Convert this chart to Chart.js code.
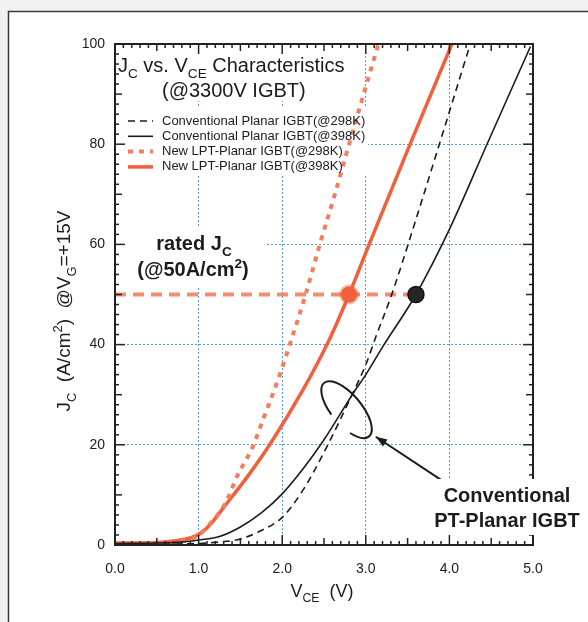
<!DOCTYPE html>
<html>
<head>
<meta charset="utf-8">
<script src="https://cdn.jsdelivr.net/npm/chart.js@4.4.0/dist/chart.umd.min.js"></script>
<style>
html, body { margin: 0; padding: 0; background: #fff; }
</style>
</head>
<body>
<canvas id="ivChart" width="588" height="622"></canvas>
<script>
// series names shown in the legend
const seriesLabels = [
    'Conventional Planar IGBT(@298K)',
    'Conventional Planar IGBT(@398K)',
    'New LPT-Planar IGBT(@298K)',
    'New LPT-Planar IGBT(@398K)'
];

// V_CE (V) / J_C (A/cm2)
const conv298V = [0, 0.5, 1.0, 1.25, 1.5, 1.75, 2.0, 2.25, 2.5, 2.85, 3.0, 3.13, 3.31, 3.6, 3.88, 4.25];
const conv298J = [0.2, 0.2, 0.3, 0.6, 1.2, 2.9, 5.5, 11, 18.5, 30.5, 36, 42, 50, 65, 80, 100];

const conv398V = [0, 0.5, 0.8, 1.0, 1.25, 1.5, 1.75, 2.0, 2.25, 2.5, 2.85, 3.0, 3.2, 3.6, 4.0, 4.45, 4.97];
const conv398J = [0.3, 0.4, 0.6, 1.0, 1.7, 3.6, 6.4, 10.2, 15.2, 21, 30.3, 34, 39.5, 50, 63, 80, 99.5];

const lpt298V = [0, 0.5, 0.8, 1.0, 1.15, 1.32, 1.46, 1.65, 1.77, 1.95, 2.1, 2.28, 2.45, 2.63, 2.8, 3.15];
const lpt298J = [0.3, 0.4, 0.8, 2.0, 4.5, 8.3, 13.7, 19.7, 25, 33, 40.5, 50, 60, 70, 80, 100];

const lpt398V = [0, 0.5, 0.7, 0.9, 1.02, 1.15, 1.3, 1.6, 1.85, 2.25, 2.55, 2.8, 3.04, 3.53, 4.03];
const lpt398J = [0.4, 0.5, 0.8, 1.4, 2.3, 4.3, 7.5, 14, 20, 31, 40.5, 50, 60, 80, 100];

// rated current density line and operating points
const ratedV = [0, 3.6];
const ratedJ = [50, 50];
const lptPointV = [2.8];
const lptPointJ = [50];
const convPointV = [3.6];
const convPointJ = [50];

const xTicks = [0, 1, 2, 3, 4, 5];
const yTicks = [0, 20, 40, 60, 80, 100];

const FONT = "'Liberation Sans', Arial, sans-serif";
const ORANGE = '#f0603c';
const ORANGE_LIGHT = '#f57d5d';

function zip(xs, ys) {
    return xs.map((x, i) => ({ x: x, y: ys[i] }));
}

// text with sub / superscripts
function drawRich(ctx, runs, x, y, size, weight, align) {
    const parts = runs.map(r => {
        const s = r.k ? size * 0.68 : size;
        ctx.font = weight + ' ' + s + 'px ' + FONT;
        return { t: r.t, k: r.k, s: s, w: ctx.measureText(r.t).width };
    });
    const total = parts.reduce((a, p) => a + p.w, 0);
    let cx = align === 'center' ? x - total / 2 : x;
    ctx.textAlign = 'left';
    ctx.textBaseline = 'alphabetic';
    parts.forEach(p => {
        ctx.font = weight + ' ' + p.s + 'px ' + FONT;
        const dy = p.k === 'sub' ? size * 0.3 : (p.k === 'sup' ? -size * 0.42 : 0);
        ctx.fillText(p.t, cx, y + dy);
        cx += p.w;
    });
}

function seg(ctx, x1, y1, x2, y2) {
    ctx.beginPath();
    ctx.moveTo(x1, y1);
    ctx.lineTo(x2, y2);
    ctx.stroke();
}

const decorPlugin = {
    id: 'decor',
    beforeDraw(chart) {
        const ctx = chart.ctx;
        ctx.save();
        ctx.fillStyle = '#f1f1f1';
        ctx.fillRect(0, 0, chart.width, chart.height);
        ctx.fillStyle = '#fff';
        ctx.fillRect(8, 11, chart.width, chart.height);
        ctx.strokeStyle = '#3a3a3a';
        ctx.lineWidth = 1.5;
        ctx.beginPath();
        ctx.moveTo(8.5, chart.height);
        ctx.lineTo(8.5, 11.5);
        ctx.lineTo(chart.width, 11.5);
        ctx.stroke();
        ctx.restore();
    },
    beforeDatasetsDraw(chart) {
        const ctx = chart.ctx;
        ctx.save();
        ctx.fillStyle = '#fff';
        ctx.fillRect(116, 45, 242, 56);   // title
        ctx.fillRect(116, 106, 252, 70);  // legend
        ctx.fillRect(116, 228, 150, 58);  // rated Jc note
        ctx.restore();
    },
    afterDatasetsDraw(chart) {
        const ctx = chart.ctx;
        const a = chart.chartArea;
        const xs = chart.scales.x;
        const ys = chart.scales.y;
        ctx.save();

        // frame + inward ticks
        ctx.strokeStyle = '#222';
        ctx.lineWidth = 2;
        ctx.strokeRect(a.left, a.top, a.right - a.left, a.bottom - a.top);
        ctx.lineWidth = 1.5;
        for (let i = 0; i <= 50; i++) {
            const px = xs.getPixelForValue(i / 10);
            const len = i % 10 === 0 ? 10 : (i % 5 === 0 ? 7 : 4);
            seg(ctx, px, a.bottom, px, a.bottom - len);
            seg(ctx, px, a.top, px, a.top + len);
        }
        for (let j = 0; j <= 100; j += 2) {
            const py = ys.getPixelForValue(j);
            const len = j % 20 === 0 ? 10 : (j % 10 === 0 ? 7 : 4);
            seg(ctx, a.left, py, a.left + len, py);
            seg(ctx, a.right, py, a.right - len, py);
        }

        ctx.fillStyle = '#1c1c1c';
        // title
        drawRich(ctx, [{ t: 'J' }, { t: 'C', k: 'sub' }, { t: ' vs. V' }, { t: 'CE', k: 'sub' }, { t: ' Characteristics' }],
            118, 72, 20, 'normal', 'left');
        drawRich(ctx, [{ t: '(@3300V IGBT)' }], 162, 97, 20, 'normal', 'left');

        // legend
        for (let i = 0; i < 4; i++) {
            const ds = chart.data.datasets[i];
            const ly = 121 + i * 15.3;
            ctx.strokeStyle = ds.borderColor;
            ctx.lineWidth = ds.borderWidth;
            ctx.setLineDash(ds.borderDash || []);
            seg(ctx, 128, ly, 153, ly);
            ctx.setLineDash([]);
            ctx.font = '13px ' + FONT;
            ctx.fillStyle = '#1c1c1c';
            ctx.textBaseline = 'middle';
            ctx.fillText(seriesLabels[i], 162, ly);
        }

        // rated note
        drawRich(ctx, [{ t: 'rated J' }, { t: 'C', k: 'sub' }], 194, 250, 20, 'bold', 'center');
        drawRich(ctx, [{ t: '(@50A/cm' }, { t: '2', k: 'sup' }, { t: ')' }], 193, 276, 20, 'bold', 'center');

        // axis titles
        drawRich(ctx, [{ t: 'V' }, { t: 'CE', k: 'sub' }, { t: '  (V)' }], 322, 597, 18, 'normal', 'center');
        ctx.save();
        ctx.translate(70, 311);
        ctx.rotate(-Math.PI / 2);
        drawRich(ctx, [{ t: 'J' }, { t: 'C', k: 'sub' }, { t: '  (A/cm' }, { t: '2', k: 'sup' }, { t: ')  @V' }, { t: 'G', k: 'sub' }, { t: '=+15V' }],
            0, 0, 19, 'normal', 'center');
        ctx.restore();

        // ellipse around the crossing of the conventional curves
        const ex = xs.getPixelForValue(2.77);
        const ey = ys.getPixelForValue(27);
        ctx.strokeStyle = '#1c1c1c';
        ctx.lineWidth = 2;
        ctx.beginPath();
        ctx.ellipse(ex, ey, 35, 15, 50 * Math.PI / 180, 100 * Math.PI / 180, 415 * Math.PI / 180);
        ctx.stroke();

        // arrow
        const tx = xs.getPixelForValue(3.9), ty = ys.getPixelForValue(13);
        const hx = xs.getPixelForValue(3.12), hy = ys.getPixelForValue(21.6);
        seg(ctx, tx, ty, hx, hy);
        const ang = Math.atan2(hy - ty, hx - tx);
        ctx.fillStyle = '#1c1c1c';
        ctx.beginPath();
        ctx.moveTo(hx, hy);
        ctx.lineTo(hx - 12 * Math.cos(ang - 0.35), hy - 12 * Math.sin(ang - 0.35));
        ctx.lineTo(hx - 12 * Math.cos(ang + 0.35), hy - 12 * Math.sin(ang + 0.35));
        ctx.closePath();
        ctx.fill();

        // label for conventional curves
        ctx.fillStyle = '#fff';
        ctx.fillRect(428, 479, 160, 56);
        ctx.fillStyle = '#1c1c1c';
        drawRich(ctx, [{ t: 'Conventional' }], 507, 502, 20, 'bold', 'center');
        drawRich(ctx, [{ t: 'PT-Planar IGBT' }], 507, 527, 20, 'bold', 'center');
        ctx.restore();
    }
};

Chart.defaults.font.family = FONT;
Chart.defaults.color = '#1c1c1c';

const gridColor = c => (c.tick && (c.tick.value === c.scale.min || c.tick.value === c.scale.max))
    ? 'rgba(0,0,0,0)' : 'rgba(70,145,230,0.9)';

const ctxIV = document.getElementById('ivChart').getContext('2d');

new Chart(ctxIV, {
    type: 'scatter',
    data: {
        datasets: [{
            label: seriesLabels[0],
            data: zip(conv298V, conv298J),
            showLine: true,
            borderColor: '#1c1c1c',
            borderWidth: 1.6,
            borderDash: [7, 5],
            pointRadius: 0,
            tension: 0.4,
            cubicInterpolationMode: 'monotone'
        }, {
            label: seriesLabels[1],
            data: zip(conv398V, conv398J),
            showLine: true,
            borderColor: '#1c1c1c',
            borderWidth: 1.6,
            pointRadius: 0,
            tension: 0.4,
            cubicInterpolationMode: 'monotone'
        }, {
            label: seriesLabels[2],
            data: zip(lpt298V, lpt298J),
            showLine: true,
            borderColor: ORANGE_LIGHT,
            borderWidth: 4,
            borderDash: [5, 6],
            pointRadius: 0,
            tension: 0.4,
            cubicInterpolationMode: 'monotone'
        }, {
            label: seriesLabels[3],
            data: zip(lpt398V, lpt398J),
            showLine: true,
            borderColor: ORANGE,
            borderWidth: 3.5,
            pointRadius: 0,
            tension: 0.4,
            cubicInterpolationMode: 'monotone'
        }, {
            label: 'rated',
            data: zip(ratedV, ratedJ),
            showLine: true,
            borderColor: 'rgba(242,120,88,0.85)',
            borderWidth: 4,
            borderDash: [11, 7],
            pointRadius: 0,
            order: 10
        }, {
            label: 'LPT point',
            data: zip(lptPointV, lptPointJ),
            pointRadius: 8,
            pointBackgroundColor: ORANGE,
            pointBorderColor: 'rgba(240,96,60,0.45)',
            pointBorderWidth: 4,
            order: -1
        }, {
            label: 'Conv point',
            data: zip(convPointV, convPointJ),
            pointRadius: 8,
            pointBackgroundColor: '#262626',
            pointBorderColor: '#111',
            pointBorderWidth: 1.5,
            order: -1
        }]
    },
    options: {
        responsive: false,
        animation: false,
        layout: {
            padding: { left: 65, right: 55, top: 44, bottom: 37 }
        },
        plugins: {
            legend: { display: false },
            tooltip: { enabled: false },
            title: { display: false }
        },
        scales: {
            x: {
                type: 'linear',
                min: 0,
                max: 5,
                afterFit(s) { s.height = 40; },
                afterBuildTicks(s) { s.ticks = xTicks.map(v => ({ value: v })); },
                ticks: {
                    padding: 16,
                    color: '#1c1c1c',
                    font: { size: 14 },
                    callback: v => v.toFixed(1)
                },
                grid: { color: gridColor, lineWidth: 1, drawTicks: false },
                border: { display: false, dash: [2, 2] }
            },
            y: {
                type: 'linear',
                min: 0,
                max: 100,
                afterFit(s) { s.width = 50; },
                afterBuildTicks(s) { s.ticks = yTicks.map(v => ({ value: v })); },
                ticks: {
                    padding: 10,
                    color: '#1c1c1c',
                    font: { size: 14 }
                },
                grid: { color: gridColor, lineWidth: 1, drawTicks: false },
                border: { display: false, dash: [2, 2] }
            }
        }
    },
    plugins: [decorPlugin]
});
</script>
</body>
</html>
